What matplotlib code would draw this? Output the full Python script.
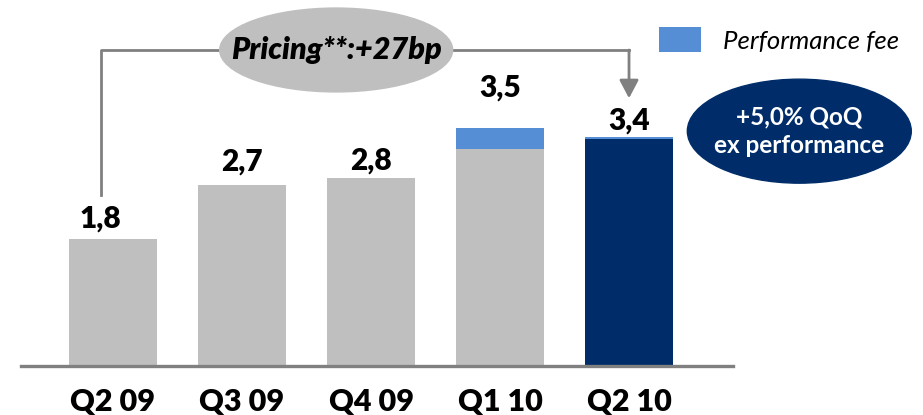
import matplotlib
matplotlib.use("Agg")
import matplotlib.pyplot as plt
import numpy as np
from matplotlib.patches import Ellipse, Patch

plt.rcParams["font.family"] = ["Lato", "DejaVu Sans"]

quarters = ["Q2 09", "Q3 09", "Q4 09", "Q1 10", "Q2 10"]
base_values = [1.89, 2.70, 2.80, 3.23, 3.38]
fee_values = [0.0, 0.0, 0.0, 0.32, 0.03]
label_values = [1.8, 2.7, 2.8, 3.5, 3.4]
label_pad = [15, 16.5, 13, 29, 12]
label_dx = [-9, 0, 0, 0, 0]

GREY = "#BFBFBF"
FEE_BLUE = "#558ED5"
NAVY = "#002D69"
LINE_GREY = "#808080"

fig = plt.figure(figsize=(9.23, 4.15), dpi=100)
ax = fig.add_axes([21 / 923, 49 / 415, 712 / 923, 366 / 415])

x = np.arange(len(quarters))
base_colors = [GREY] * 4 + [NAVY]
ax.bar(x, base_values, width=0.68, color=base_colors, zorder=2)
ax.bar(x, fee_values, width=0.68, bottom=base_values, color=FEE_BLUE, zorder=2)

totals = np.array(base_values) + np.array(fee_values)
for xi, top, val, pad, dx in zip(x, totals, label_values, label_pad, label_dx):
    ax.annotate(f"{val:.1f}".replace(".", ","), xy=(xi, top), xytext=(dx, pad),
                textcoords="offset points", ha="center", va="center",
                fontsize=21.5, fontweight="heavy", color="black")

ax.set_xlim(-0.713, 4.806)
ax.set_ylim(0, 5.455)
ax.axhline(0, color=LINE_GREY, lw=2.4, zorder=3, clip_on=False)

ax.set_xticks(x)
ax.set_xticklabels(quarters, fontsize=22, fontweight="heavy")
ax.tick_params(axis="x", length=0, pad=16)
ax.set_yticks([])
for side in ["top", "right", "left", "bottom"]:
    ax.spines[side].set_visible(False)

# pricing bracket from first to last quarter
bracket_y = 4.71
left_x = x[0] - 0.09
ax.plot([left_x, left_x, x[-1]], [2.55, bracket_y, bracket_y],
        color=LINE_GREY, lw=2, zorder=1, clip_on=False)
ax.annotate("", xy=(x[-1], 3.99), xytext=(x[-1], bracket_y),
            arrowprops=dict(arrowstyle="-|>,head_length=1.1,head_width=0.58",
                            color=LINE_GREY, lw=2, shrinkA=0, shrinkB=0,
                            mutation_scale=10))
ax.add_patch(Ellipse((1.73, bracket_y), 1.806, 1.25, color=GREY, zorder=4,
                     clip_on=False))
ax.text(1.73, bracket_y, "Pricing**:+27bp", ha="center", va="center",
        fontsize=22, fontweight="heavy", fontstyle="italic", zorder=5)

# QoQ bubble
ax.add_patch(Ellipse((5.32, 3.50), 1.736, 1.55, color=NAVY, zorder=4,
                     clip_on=False))
ax.text(5.32, 3.50, "+5,0% QoQ\nex performance", ha="center", va="center",
        fontsize=17.5, fontweight="bold", color="white", linespacing=1.3,
        zorder=5, clip_on=False)

handle = Patch(facecolor=FEE_BLUE, edgecolor="none")
fig.legend([handle], ["Performance fee"], loc="center left",
           bbox_to_anchor=(659 / 923, 1 - 40 / 415), frameon=False,
           borderpad=0, borderaxespad=0, handlelength=1.65, handleheight=1.12,
           handletextpad=0.85, prop=dict(family="Lato", style="italic", size=18.5))

fig.savefig("out.png", dpi=100)
